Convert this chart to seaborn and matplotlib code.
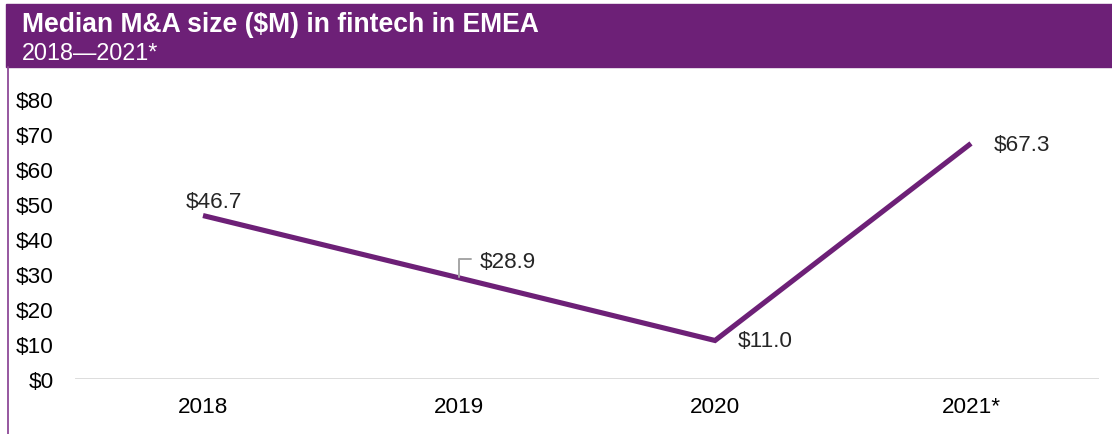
import matplotlib
matplotlib.use("Agg")
import matplotlib.pyplot as plt
from matplotlib.patches import Rectangle
from matplotlib.lines import Line2D
import seaborn as sns
import pandas as pd

years = ["2018", "2019", "2020", "2021*"]
median_size = [46.7, 28.9, 11.0, 67.3]
y_ticks = [0, 10, 20, 30, 40, 50, 60, 70, 80]
y_tick_labels = [f"${v}" for v in y_ticks]
title = "Median M&A size ($M) in fintech in EMEA"
subtitle = "2018\u20142021*"

purple = "#6D2077"
sns.set_theme(style="white")
plt.rcParams["font.family"] = ["Liberation Sans", "DejaVu Sans"]

FS = 16.2
W, H = 1112, 435
fig = plt.figure(figsize=(W / 100, H / 100), dpi=100)
ax = fig.add_axes([75 / W, 1 - 380 / H, (1099 - 75) / W, (380 - 100) / H])

df = pd.DataFrame({"year": years, "size": median_size})
sns.lineplot(data=df, x="year", y="size", ax=ax, color=purple,
             linewidth=3.7, solid_capstyle="butt", solid_joinstyle="miter", sort=False)

ax.set_xlim(-0.5, 3.5)
ax.set_ylim(0, 80)
ax.set_yticks(y_ticks)
ax.set_yticklabels(y_tick_labels)
ax.set_xlabel("")
ax.set_ylabel("")
for s in ax.spines.values():
    s.set_visible(False)
ax.axhline(0, color="#D9D9D9", linewidth=2, zorder=0)
ax.tick_params(axis="y", labelsize=FS, pad=15.5, length=0, labelcolor="black")
ax.tick_params(axis="x", labelsize=FS, pad=12.5, length=0, labelcolor="black")

# value labels
lab = [f"${v:.1f}" for v in median_size]
ax.annotate(lab[0], (0, median_size[0]), xytext=(7.5, 6.5), textcoords="offset points",
            ha="center", va="baseline", fontsize=FS)
ax.annotate(lab[1], (1, median_size[1]), xytext=(15, 8), textcoords="offset points",
            ha="left", va="baseline", fontsize=FS)
ax.annotate(lab[2], (2, median_size[2]), xytext=(16.5, 0), textcoords="offset points",
            ha="left", va="center", fontsize=FS)
ax.annotate(lab[3], (3, median_size[3]), xytext=(16, -0.5), textcoords="offset points",
            ha="left", va="center", fontsize=FS)

# leader line for the 2019 label
x0 = ax.transData.transform((1, median_size[1]))
inv = fig.transFigure.inverted()
p_low = inv.transform((x0[0], x0[1] + 1))
p_top = inv.transform((x0[0], x0[1] + 19))
p_end = inv.transform((x0[0] + 12, x0[1] + 19))
fig.add_artist(Line2D([p_low[0], p_top[0], p_end[0]], [p_low[1], p_top[1], p_end[1]],
                      color="#A6A6A6", linewidth=1.4))

# header band and left rule
fig.add_artist(Rectangle((6 / W, 1 - 68 / H), 1 - 6 / W, 63 / H,
                         transform=fig.transFigure, color=purple, zorder=0))
fig.add_artist(Line2D([7.5 / W, 7.5 / W], [0, 1 - 68 / H], color="#8E4A97", linewidth=1.3))
fig.text(22 / W, 1 - 32 / H, title, color="white", fontsize=19.1, fontweight="bold",
         va="baseline", ha="left")
fig.text(22 / W, 1 - 60 / H, subtitle, color="white", fontsize=16.8,
         va="baseline", ha="left")

fig.savefig("out.png", dpi=100, facecolor="white")
